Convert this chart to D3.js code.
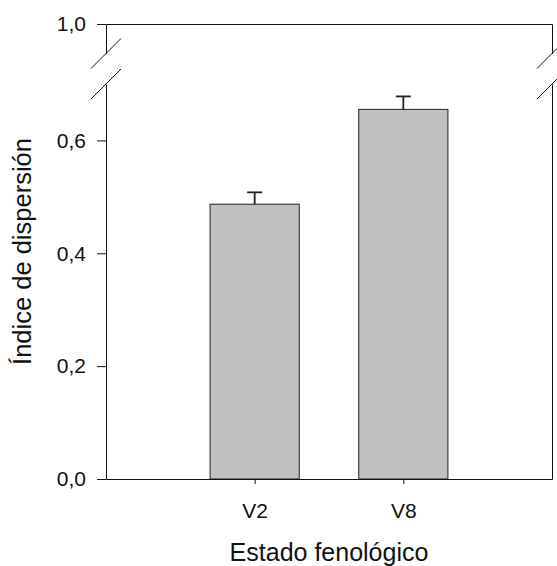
<!DOCTYPE html>
<html>
<head>
<meta charset="utf-8">
<script src="https://cdn.jsdelivr.net/npm/d3@7/dist/d3.min.js"></script>
<style>
  html, body { margin: 0; padding: 0; background: #fff; }
  svg { display: block; }
  text { font-family: "Liberation Sans", Arial, sans-serif; fill: #111; }
</style>
</head>
<body>
<div id="chart"></div>
<script>
// Dispersion index by phenological stage (mean ± error)
const categories = ["V2", "V8"];
const meanValues = [0.487, 0.655];
const errorValues = [0.021, 0.023];
const lowerTicks = [0, 0.2, 0.4, 0.6];
const upperTicks = [1.0];

const width = 557, height = 566;
const plotLeft = 106, plotRight = 552, plotTop = 24, plotBottom = 479;
const breakLow = 84, breakHigh = 53.5;

const svg = d3.select("#chart").append("svg")
  .attr("width", width).attr("height", height);

const ink = "#111";
const fmt = d => d.toFixed(1).replace(".", ",");

// x positions: categories sit at 1 and 2 on a 0..3 span
const x = d3.scaleLinear().domain([0, categories.length + 1]).range([plotLeft, plotRight]);
// broken y axis: lower segment 0–0.7, upper segment 0.95–1.0
const yLow = d3.scaleLinear().domain([0, 0.7]).range([plotBottom, breakLow]);
const yHigh = d3.scaleLinear().domain([0.95, 1.0]).range([breakHigh, plotTop]);

const barWidth = x(0.6) - x(0);

// bars
svg.append("g").selectAll("rect")
  .data(categories)
  .join("rect")
  .attr("x", (d, i) => x(i + 1) - barWidth / 2)
  .attr("y", (d, i) => yLow(meanValues[i]))
  .attr("width", barWidth)
  .attr("height", (d, i) => yLow(0) - yLow(meanValues[i]))
  .attr("fill", "#c0c0c0")
  .attr("stroke", "#222")
  .attr("stroke-width", 1);

// error bars (upper whisker only)
const err = svg.append("g").attr("stroke", "#222").attr("stroke-width", 1.8);
categories.forEach((c, i) => {
  const cx = x(i + 1);
  err.append("line")
    .attr("x1", cx).attr("x2", cx)
    .attr("y1", yLow(meanValues[i]))
    .attr("y2", yLow(meanValues[i] + errorValues[i]));
  err.append("line")
    .attr("x1", cx - 7.5).attr("x2", cx + 7.5)
    .attr("y1", yLow(meanValues[i] + errorValues[i]))
    .attr("y2", yLow(meanValues[i] + errorValues[i]));
});

function styleAxis(g) {
  g.selectAll("path, line").attr("stroke", ink);
  g.selectAll("text")
    .attr("font-family", "'Liberation Sans', Arial, sans-serif")
    .attr("font-size", 21)
    .attr("fill", ink);
}

// left axis, lower segment
svg.append("g")
  .attr("transform", `translate(${plotLeft},0)`)
  .call(d3.axisLeft(yLow).tickValues(lowerTicks).tickFormat(fmt)
    .tickSize(9).tickSizeOuter(0).tickPadding(11))
  .call(styleAxis);

// left axis, upper segment
svg.append("g")
  .attr("transform", `translate(${plotLeft},0)`)
  .call(d3.axisLeft(yHigh).tickValues(upperTicks).tickFormat(fmt)
    .tickSize(9).tickSizeOuter(0).tickPadding(11))
  .call(styleAxis);

// right frame, both segments
svg.append("g")
  .attr("transform", `translate(${plotRight},0)`)
  .call(d3.axisRight(yLow).tickValues([]).tickSizeOuter(0))
  .call(styleAxis);
svg.append("g")
  .attr("transform", `translate(${plotRight},0)`)
  .call(d3.axisRight(yHigh).tickValues([]).tickSizeOuter(0))
  .call(styleAxis);

// top frame
svg.append("g")
  .attr("transform", `translate(0,${yHigh(1.0)})`)
  .call(d3.axisTop(x).tickValues([]).tickSizeOuter(0))
  .call(styleAxis);

// bottom axis
svg.append("g")
  .attr("transform", `translate(0,${plotBottom})`)
  .call(d3.axisBottom(x).tickValues(categories.map((c, i) => i + 1))
    .tickFormat(v => categories[v - 1])
    .tickSize(5).tickSizeOuter(0).tickPadding(19))
  .call(styleAxis);

// break marks on both vertical axes
const marks = svg.append("g").attr("stroke", ink).attr("stroke-width", 1);
[plotLeft, plotRight].forEach(ax => {
  [breakHigh, breakLow].forEach(by => {
    marks.append("line")
      .attr("x1", ax - 15).attr("y1", by + 15)
      .attr("x2", ax + 15).attr("y2", by - 15);
  });
});

// axis titles
svg.append("text")
  .attr("x", (plotLeft + plotRight) / 2)
  .attr("y", 560.5)
  .attr("text-anchor", "middle")
  .attr("font-size", 25)
  .text("Estado fenológico");

svg.append("text")
  .attr("transform", `translate(31,${(plotTop + plotBottom) / 2}) rotate(-90)`)
  .attr("text-anchor", "middle")
  .attr("font-size", 25.5)
  .text("Índice de dispersión");
</script>
</body>
</html>
